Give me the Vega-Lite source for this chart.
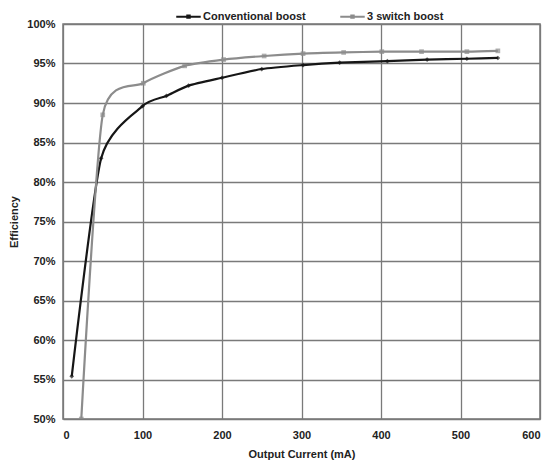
{
  "$schema": "https://vega.github.io/schema/vega-lite/v6.json",
  "width": 477,
  "height": 395,
  "autosize": {"type": "none"},
  "padding": {"left": 63, "top": 24, "right": 13, "bottom": 50},
  "background": "white",
  "config": {
    "font": "Liberation Sans",
    "view": {"stroke": "#777", "strokeWidth": 1.5},
    "axis": {
      "gridColor": "#7a7a7a",
      "gridWidth": 1.3,
      "gridOpacity": 1,
      "domain": false,
      "ticks": false,
      "labelColor": "#222",
      "labelFontSize": 11,
      "labelFontWeight": "bold",
      "titleColor": "#222",
      "titleFontSize": 11,
      "titleFontWeight": "bold"
    }
  },
  "data": {
    "values": [
      {"series": "Conventional boost", "current": 11, "eff": 55.4},
      {"series": "Conventional boost", "current": 48, "eff": 83.0},
      {"series": "Conventional boost", "current": 100, "eff": 89.6},
      {"series": "Conventional boost", "current": 130, "eff": 90.9},
      {"series": "Conventional boost", "current": 158, "eff": 92.2},
      {"series": "Conventional boost", "current": 200, "eff": 93.2},
      {"series": "Conventional boost", "current": 250, "eff": 94.3},
      {"series": "Conventional boost", "current": 302, "eff": 94.8},
      {"series": "Conventional boost", "current": 348, "eff": 95.1},
      {"series": "Conventional boost", "current": 408, "eff": 95.3},
      {"series": "Conventional boost", "current": 458, "eff": 95.5},
      {"series": "Conventional boost", "current": 508, "eff": 95.6},
      {"series": "Conventional boost", "current": 547, "eff": 95.7},
      {"series": "3 switch boost", "current": 23, "eff": 50.0},
      {"series": "3 switch boost", "current": 50, "eff": 88.5},
      {"series": "3 switch boost", "current": 101, "eff": 92.5},
      {"series": "3 switch boost", "current": 153, "eff": 94.7},
      {"series": "3 switch boost", "current": 202, "eff": 95.5},
      {"series": "3 switch boost", "current": 253, "eff": 95.95},
      {"series": "3 switch boost", "current": 302, "eff": 96.25},
      {"series": "3 switch boost", "current": 353, "eff": 96.4},
      {"series": "3 switch boost", "current": 401, "eff": 96.5},
      {"series": "3 switch boost", "current": 451, "eff": 96.5},
      {"series": "3 switch boost", "current": 508, "eff": 96.5},
      {"series": "3 switch boost", "current": 547, "eff": 96.6}
    ]
  },
  "encoding": {
    "x": {
      "field": "current", "type": "quantitative",
      "scale": {"domain": [0, 600], "nice": false},
      "axis": {"values": [0, 100, 200, 300, 400, 500, 600], "title": "Output Current (mA)", "labelPadding": 10, "titlePadding": 8}
    },
    "y": {
      "field": "eff", "type": "quantitative",
      "scale": {"domain": [50, 100], "nice": false, "zero": false},
      "axis": {"values": [50, 55, 60, 65, 70, 75, 80, 85, 90, 95, 100], "labelExpr": "datum.value + '%'", "title": "Efficiency", "labelPadding": 8, "titlePadding": 7}
    }
  },
  "layer": [
    {
      "mark": {"type": "line", "interpolate": "cardinal", "tension": 0.35, "strokeWidth": 2.2, "clip": true},
      "encoding": {
        "color": {
          "field": "series", "type": "nominal",
          "scale": {"domain": ["Conventional boost", "3 switch boost"], "range": ["#161616", "#8c8c8c"]},
          "legend": {
            "title": null,
            "orient": "none",
            "direction": "horizontal",
            "legendX": 112,
            "legendY": -21,
            "symbolType": "M-1,0H1M-0.1,-0.1H0.1V0.1H-0.1Z",
            "symbolSize": 600,
            "symbolStrokeWidth": 2,
            "labelFontSize": 11,
            "labelFontWeight": "bold",
            "labelColor": "#222",
            "columnPadding": 30,
            "labelOffset": 1
          }
        }
      }
    },
    {
      "mark": {"type": "point", "filled": true, "size": 22, "clip": true},
      "encoding": {
        "color": {
          "field": "series", "type": "nominal",
          "scale": {"domain": ["Conventional boost", "3 switch boost"], "range": ["#161616", "#8c8c8c"]},
          "legend": null
        },
        "shape": {
          "field": "series", "type": "nominal",
          "scale": {"domain": ["Conventional boost", "3 switch boost"], "range": ["diamond", "square"]},
          "legend": null
        }
      }
    }
  ],
  "resolve": {"scale": {"color": "independent"}, "legend": {"color": "independent"}}
}
